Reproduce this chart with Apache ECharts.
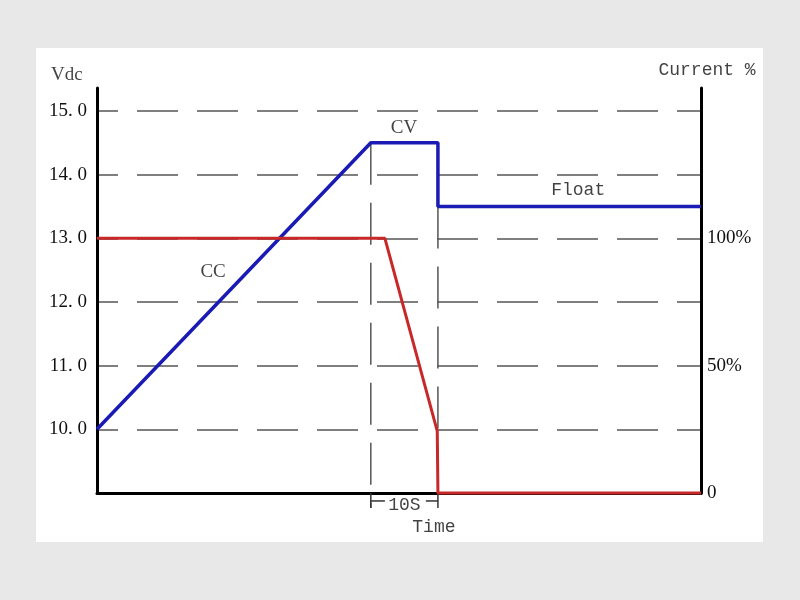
<!DOCTYPE html>
<html>
<head>
<meta charset="utf-8">
<script src="https://cdn.jsdelivr.net/npm/echarts@6/dist/echarts.min.js"></script>
<style>
  html, body { margin: 0; padding: 0; background: #e8e8e8; }
  #chart { width: 800px; height: 600px; }
</style>
</head>
<body>
<div id="chart"></div>
<script>
// ---- data ----
var voltageTime = [0, 40.8, 50.8, 50.8, 90];
var voltageVdc  = [10.0, 14.5, 14.5, 13.5, 13.5];
var currentTime = [0, 42.9, 50.7, 50.8, 90];
var currentPct  = [100, 100, 24.3, 0, 0];
var cvStart = 40.8, cvEnd = 50.8;
var leftTickLabels  = { 10: '10. 0', 11: '11. 0', 12: '12. 0', 13: '13. 0', 14: '14. 0', 15: '15. 0' };
var rightTickLabels = { 0: '0', 50: '50%', 100: '100%' };
var noteTexts = ['CV', 'Float', 'CC', '10S', 'Time', 'Vdc', 'Current %'];
var noteTime  = [45.75, 71.7, 17.3, 45.8, 50.2, -4.5, 90.9];
var noteVdc   = [14.73, 13.76, 12.47, 8.81, 8.47, 15.56, 15.64];
var noteMono  = [false, true, false, true, true, false, true];

function pairs(xs, ys) { return xs.map(function (x, i) { return [x, ys[i]]; }); }

var serif = '"Liberation Serif", "DejaVu Serif", serif';
var mono = '"Liberation Mono", "DejaVu Sans Mono", monospace';

var chart = echarts.init(document.getElementById('chart'));
var gridLine = { color: '#555', width: 1.5, type: [41, 19], dashOffset: 20 };
var vLine = { color: '#555', width: 1.5, type: [42, 18] };
var thin = { color: '#333', width: 1.5 };

var notes = noteTexts.map(function (t, i) {
  return {
    value: [noteTime[i], noteVdc[i]],
    label: {
      show: true, formatter: t, position: 'inside',
      fontFamily: noteMono[i] ? mono : serif,
      fontSize: noteMono[i] ? 18 : 19, color: '#111'
    }
  };
});

chart.setOption({
  backgroundColor: 'transparent',
  animation: false,
  graphic: [{
    type: 'rect', z: -10, silent: true,
    shape: { x: 36, y: 48, width: 727, height: 494 },
    style: { fill: '#ffffff' }
  }],
  grid: { left: 97, right: 99, top: 88, bottom: 107 },
  xAxis: {
    type: 'value', min: 0, max: 90,
    axisLine: { lineStyle: { color: '#000', width: 3 } },
    axisTick: { show: false }, axisLabel: { show: false }, splitLine: { show: false }
  },
  yAxis: [{
    type: 'value', min: 9, max: 15.36, interval: 1,
    axisLine: { show: true, lineStyle: { color: '#000', width: 3 } },
    axisTick: { show: false },
    axisLabel: {
      margin: 10, fontFamily: serif, fontSize: 19, color: '#111',
      formatter: function (v) { return leftTickLabels[Math.round(v * 100) / 100] || ''; }
    },
    splitLine: { show: true, showMinLine: false, showMaxLine: false, lineStyle: gridLine }
  }, {
    type: 'value', min: 0, max: 159, interval: 50, position: 'right',
    axisLine: { show: true, lineStyle: { color: '#000', width: 3 } },
    axisTick: { show: false },
    axisLabel: {
      margin: 6, fontFamily: serif, fontSize: 19, color: '#111',
      formatter: function (v) { return rightTickLabels[v] || ''; }
    },
    splitLine: { show: false }
  }],
  series: [
    { type: 'line', data: [[cvStart, 14.5], [cvStart, 8.765]], symbol: 'none', clip: false, lineStyle: vLine, z: 2 },
    { type: 'line', data: [[cvEnd, 13.5], [cvEnd, 9.0]], symbol: 'none', clip: false, lineStyle: vLine, z: 2 },
    { type: 'line', data: [[cvStart, 9.0], [cvStart, 8.765]], symbol: 'none', clip: false, lineStyle: thin, z: 2 },
    { type: 'line', data: [[cvEnd, 9.0], [cvEnd, 8.765]], symbol: 'none', clip: false, lineStyle: thin, z: 2 },
    { type: 'line', data: [[cvStart, 8.875], [42.9, 8.875]], symbol: 'none', clip: false, lineStyle: thin, z: 2 },
    { type: 'line', data: [[49.0, 8.875], [cvEnd, 8.875]], symbol: 'none', clip: false, lineStyle: thin, z: 2 },
    { type: 'line', name: 'Voltage', data: pairs(voltageTime, voltageVdc), yAxisIndex: 0, symbol: 'none', clip: false,
      lineStyle: { color: '#1a1ab4', width: 3.5 }, z: 5 },
    { type: 'line', name: 'Current', data: pairs(currentTime, currentPct), yAxisIndex: 1, symbol: 'none', clip: false,
      lineStyle: { color: '#c82828', width: 3 }, z: 6 },
    { type: 'scatter', data: notes, symbolSize: 1, itemStyle: { color: 'rgba(0,0,0,0)' }, clip: false, z: 10 }
  ]
});
</script>
</body>
</html>
